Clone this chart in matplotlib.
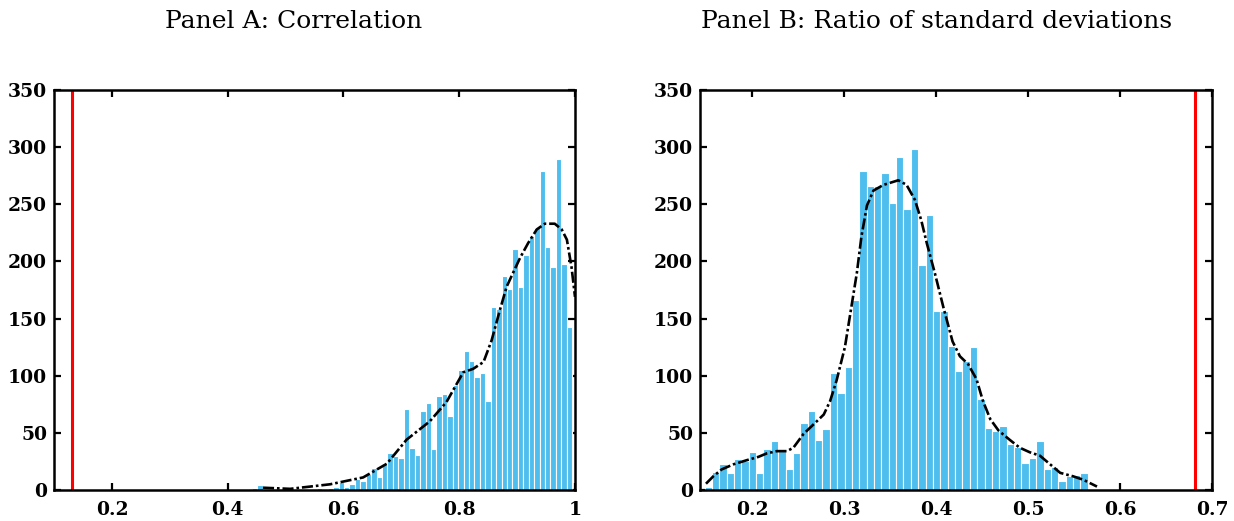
import numpy as np
import matplotlib
matplotlib.use("Agg")
import matplotlib.pyplot as plt

# ---------------- data ----------------
# Panel A: correlation histogram
corr_bin_start = 0.4416
corr_bin_width = 0.00938
corr_counts = [2, 4, 0, 0, 1, 0, 0, 1, 0, 1, 0, 1, 2, 1, 2, 3, 7, 3, 5, 10,
               8, 14, 19, 11, 23, 32, 30, 28, 71, 37, 31, 69, 76, 36, 82, 84, 65, 92, 105, 122,
               113, 99, 102, 78, 160, 158, 187, 176, 211, 178, 206, 222, 229, 279, 213, 195, 290, 198, 143]
corr_kde_x = [0.461, 0.508, 0.577, 0.634, 0.675, 0.709, 0.749, 0.778, 0.807, 0.824,
              0.842, 0.856, 0.870, 0.882, 0.893, 0.905, 0.919, 0.934, 0.948, 0.965,
              0.977, 0.986, 0.994, 1.000]
corr_kde_y = [2, 1, 5, 11, 23, 44, 60, 77, 103, 106,
              112, 131, 157, 178, 190, 203, 216, 228, 233, 233,
              228, 219, 195, 169]
corr_actual = 0.131

# Panel B: ratio of standard deviations histogram
ratio_bin_start = 0.1484
ratio_bin_width = 0.00801
ratio_counts = [3, 16, 23, 15, 27, 25, 33, 15, 36, 43, 34, 18, 32, 59, 69, 44, 53, 102, 85, 108,
                166, 279, 266, 266, 277, 251, 291, 246, 298, 197, 241, 157, 157, 126, 104, 113, 125, 80, 54, 52,
                56, 40, 38, 24, 28, 43, 18, 20, 8, 12, 13, 15]
ratio_kde_x = [0.150, 0.158, 0.167, 0.180, 0.194, 0.207, 0.216, 0.227, 0.238, 0.245,
               0.256, 0.267, 0.278, 0.285, 0.292, 0.301, 0.308, 0.314, 0.319, 0.325,
               0.332, 0.343, 0.359, 0.368, 0.377, 0.384, 0.390, 0.399, 0.408, 0.418,
               0.426, 0.435, 0.444, 0.451, 0.459, 0.468, 0.480, 0.491, 0.502, 0.513,
               0.524, 0.535, 0.549, 0.560, 0.575]
ratio_kde_y = [5.5, 12, 18, 22.5, 26, 29, 32, 34, 34, 37,
               49, 57.5, 66, 78, 96, 125, 160, 190, 222, 249,
               262, 267, 271, 267, 254, 236, 216, 189, 160, 130,
               117, 110, 97, 78, 62, 52, 44, 37, 33, 30,
               22.5, 15, 12, 9, 3]
ratio_actual = 0.6815

titles = ["Panel A: Correlation", "Panel B: Ratio of standard deviations"]
yticks = [0, 50, 100, 150, 200, 250, 300, 350]
corr_xticks = [0.2, 0.4, 0.6, 0.8, 1.0]
corr_xticklabels = ["0.2", "0.4", "0.6", "0.8", "1"]
ratio_xticks = [0.2, 0.3, 0.4, 0.5, 0.6, 0.7]
ratio_xticklabels = ["0.2", "0.3", "0.4", "0.5", "0.6", "0.7"]

# ---------------- style ----------------
BAR = "#4DBEEE"
W, H = 1234, 521
fig = plt.figure(figsize=(W / 100, H / 100), dpi=100)

def px_axes(l, t, r, b):
    return fig.add_axes([l / W, 1 - b / H, (r - l) / W, (b - t) / H])

axA = px_axes(54, 90, 575, 490)
axB = px_axes(700, 90, 1212, 490)

panels = [
    (axA, corr_bin_start, corr_bin_width, corr_counts, corr_kde_x, corr_kde_y, corr_actual,
     (0.1, 1.0), corr_xticks, corr_xticklabels),
    (axB, ratio_bin_start, ratio_bin_width, ratio_counts, ratio_kde_x, ratio_kde_y, ratio_actual,
     (0.1435, 0.7), ratio_xticks, ratio_xticklabels),
]

for ax, start, width, counts, kx, ky, actual, xlim, xt, xtl in panels:
    n = len(counts)
    edges = start + width * np.arange(n)
    ax.bar(edges, counts, width=width, align="edge", color=BAR,
           edgecolor="white", linewidth=0.8, zorder=2)
    ax.plot(kx, ky, color="black", lw=1.9, linestyle=(0, (4.2, 1.1, 1.0, 1.1)),
            zorder=3)
    ax.axvline(actual, color="#FF0000", lw=2.2, zorder=4)
    ax.set_xlim(*xlim)
    ax.set_ylim(0, 350)
    ax.set_yticks(yticks)
    ax.set_yticklabels([str(v) for v in yticks])
    ax.set_xticks(xt)
    ax.set_xticklabels(xtl)
    for sp in ax.spines.values():
        sp.set_linewidth(1.8)
        sp.set_zorder(5)
    ax.tick_params(axis="both", direction="in", length=5, width=1.6, top=True, right=True,
                   labelsize=13.5)
    ax.tick_params(axis="y", pad=5)
    ax.tick_params(axis="x", pad=8)
    for lab in ax.get_xticklabels() + ax.get_yticklabels():
        lab.set_fontfamily("DejaVu Serif")
        lab.set_fontweight("bold")

fig.text(294 / W, 1 - 22 / H, titles[0], ha="center", va="center",
         fontsize=18, family="DejaVu Serif")
fig.text(937 / W, 1 - 22 / H, titles[1], ha="center", va="center",
         fontsize=18, family="DejaVu Serif")

fig.savefig("out.png", dpi=100)
